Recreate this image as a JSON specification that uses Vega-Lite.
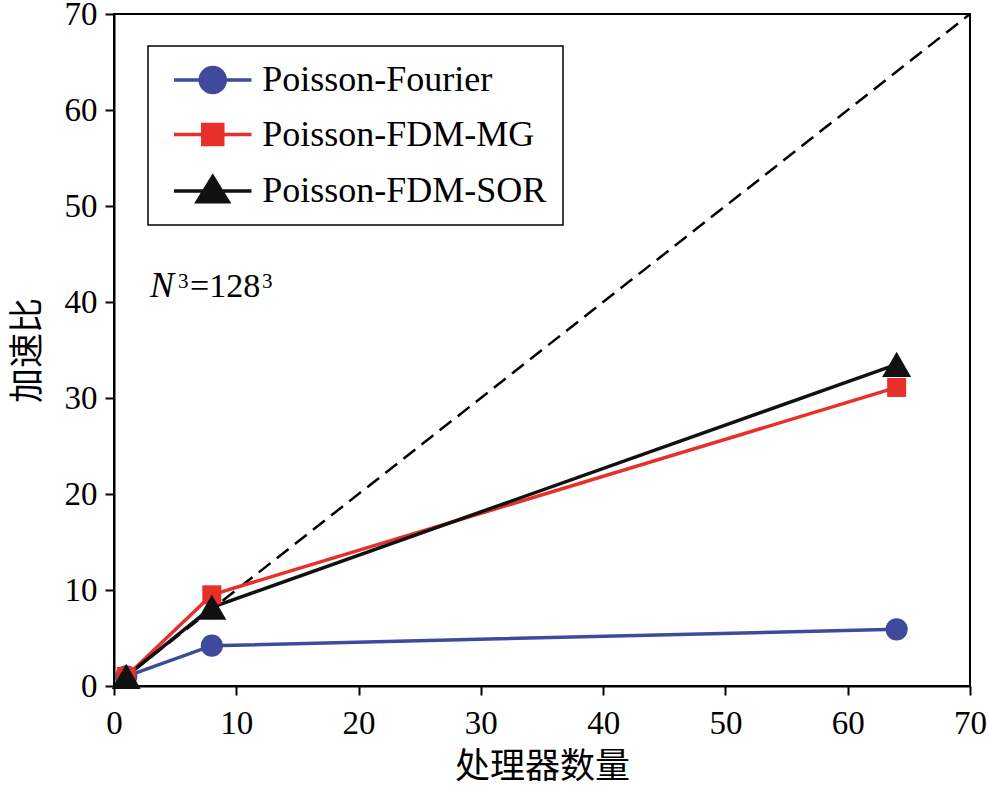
{
  "$schema": "https://vega.github.io/schema/vega-lite/v6.json",
  "width": 856,
  "height": 672,
  "autosize": "none",
  "padding": {"left": 114, "top": 14, "right": 19, "bottom": 101},
  "background": "white",
  "config": {
    "view": {"stroke": "black", "strokeWidth": 2},
    "style": {
      "guide-label": {"font": "Liberation Serif"},
      "guide-title": {"font": "Noto Sans CJK SC"}
    },
    "axis": {
      "grid": false,
      "domainColor": "black",
      "domainWidth": 2,
      "tickColor": "black",
      "tickWidth": 2,
      "tickSize": 9,
      "labelFont": "Liberation Serif",
      "labelFontSize": 33,
      "labelColor": "black",
      "labelFlush": false,
      "labelOverlap": false,
      "titleFont": "Noto Sans CJK SC",
      "titleFontSize": 35,
      "titleFontWeight": "normal",
      "titleColor": "black"
    },
    "legend": {
      "orient": "none",
      "legendX": 34,
      "legendY": 32,
      "padding": 16,
      "strokeColor": "black",
      "strokeWidth": 1.5,
      "fillColor": "white",
      "labelFont": "Liberation Serif",
      "labelFontSize": 36,
      "labelColor": "black",
      "labelLimit": 0,
      "symbolSize": 625,
      "symbolStrokeWidth": 3.5,
      "symbolOffset": 30.75,
      "labelOffset": 31.5,
      "rowPadding": 16.5
    }
  },
  "datasets": {
    "speedup": [
      {"series": "Poisson-Fourier", "procs": 1, "speedup": 1.0},
      {"series": "Poisson-Fourier", "procs": 8, "speedup": 4.2},
      {"series": "Poisson-Fourier", "procs": 64, "speedup": 5.9},
      {"series": "Poisson-FDM-MG", "procs": 1, "speedup": 1.0},
      {"series": "Poisson-FDM-MG", "procs": 8, "speedup": 9.5},
      {"series": "Poisson-FDM-MG", "procs": 64, "speedup": 31.1},
      {"series": "Poisson-FDM-SOR", "procs": 1, "speedup": 1.0},
      {"series": "Poisson-FDM-SOR", "procs": 8, "speedup": 8.2},
      {"series": "Poisson-FDM-SOR", "procs": 64, "speedup": 33.5}
    ],
    "ideal": [
      {"procs": 0, "speedup": 0},
      {"procs": 70, "speedup": 70}
    ],
    "note": [
      {"label": "N³=128³"}
    ]
  },
  "layer": [
    {
      "data": {"name": "ideal"},
      "mark": {"type": "line", "color": "black", "strokeWidth": 2.5, "strokeDash": [15, 8], "clip": true},
      "encoding": {
        "x": {"field": "procs", "type": "quantitative", "scale": {"domain": [0, 70]}, "axis": {"values": [0, 10, 20, 30, 40, 50, 60, 70], "labelFont": "Liberation Serif", "title": "处理器数量", "titlePadding": 9, "labelPadding": 12}},
        "y": {"field": "speedup", "type": "quantitative", "scale": {"domain": [0, 70]}, "axis": {"values": [0, 10, 20, 30, 40, 50, 60, 70], "labelFont": "Liberation Serif", "title": "加速比", "titlePadding": 19, "labelPadding": 8}}
      }
    },
    {
      "data": {"name": "speedup"},
      "mark": {"type": "line", "strokeWidth": 3.5},
      "encoding": {
        "x": {"field": "procs", "type": "quantitative"},
        "y": {"field": "speedup", "type": "quantitative"},
        "order": {"field": "procs", "type": "quantitative"},
        "color": {
          "field": "series",
          "type": "nominal",
          "scale": {"domain": ["Poisson-Fourier", "Poisson-FDM-MG", "Poisson-FDM-SOR"], "range": ["#3f4a9c", "#e8302a", "#111111"]},
          "legend": {
            "title": null,
            "encode": {
              "symbols": {
                "update": {
                  "shape": {"signal": "datum.value === 'Poisson-Fourier' ? 'M-3.1,0H-1M1,0H3.1M1,0A1,1,0,1,1,-1,0A1,1,0,1,1,1,0Z' : datum.value === 'Poisson-FDM-MG' ? 'M-3.1,0H3.1M-0.8,-0.8H0.8V0.8H-0.8Z' : 'M-3.1,0H3.1M0,-1.15L1.24,0.85L-1.24,0.85Z'"},
                  "fill": {"signal": "datum.value === 'Poisson-Fourier' ? '#3f4a9c' : datum.value === 'Poisson-FDM-MG' ? '#e8302a' : '#111111'"},
                  "stroke": {"signal": "datum.value === 'Poisson-Fourier' ? '#3f4a9c' : datum.value === 'Poisson-FDM-MG' ? '#e8302a' : '#111111'"},
                  "strokeWidth": {"value": 3.5},
                  "opacity": {"value": 1}
                }
              }
            }
          }
        }
      }
    },
    {
      "data": {"name": "speedup"},
      "transform": [{"filter": "datum.series === 'Poisson-Fourier'"}],
      "mark": {"type": "point", "shape": "circle", "filled": true, "size": 491, "opacity": 1, "color": "#3f4a9c"},
      "encoding": {
        "x": {"field": "procs", "type": "quantitative"},
        "y": {"field": "speedup", "type": "quantitative"}
      }
    },
    {
      "data": {"name": "speedup"},
      "transform": [{"filter": "datum.series === 'Poisson-FDM-MG'"}],
      "mark": {"type": "point", "shape": "square", "filled": true, "size": 361, "opacity": 1, "color": "#e8302a"},
      "encoding": {
        "x": {"field": "procs", "type": "quantitative"},
        "y": {"field": "speedup", "type": "quantitative"}
      }
    },
    {
      "data": {"name": "speedup"},
      "transform": [{"filter": "datum.series === 'Poisson-FDM-SOR'"}],
      "mark": {"type": "point", "shape": "triangle-up", "filled": true, "size": 841, "opacity": 1, "color": "#111111"},
      "encoding": {
        "x": {"field": "procs", "type": "quantitative"},
        "y": {"field": "speedup", "type": "quantitative"}
      }
    },
    {
      "data": {"name": "note"},
      "mark": {"type": "text", "text": "N", "font": "Liberation Serif", "fontStyle": "italic", "fontSize": 36, "align": "left", "baseline": "alphabetic", "color": "black"},
      "encoding": {
        "x": {"datum": 2.95, "type": "quantitative"},
        "y": {"datum": 40.5, "type": "quantitative"}
      }
    },
    {
      "data": {"name": "note"},
      "mark": {"type": "text", "text": "3", "font": "Liberation Serif", "fontSize": 21, "align": "left", "baseline": "alphabetic", "dx": 28, "dy": -9, "color": "black"},
      "encoding": {
        "x": {"datum": 2.95, "type": "quantitative"},
        "y": {"datum": 40.5, "type": "quantitative"}
      }
    },
    {
      "data": {"name": "note"},
      "mark": {"type": "text", "text": "=128", "font": "Liberation Serif", "fontSize": 34, "align": "left", "baseline": "alphabetic", "dx": 40, "color": "black"},
      "encoding": {
        "x": {"datum": 2.95, "type": "quantitative"},
        "y": {"datum": 40.5, "type": "quantitative"}
      }
    },
    {
      "data": {"name": "note"},
      "mark": {"type": "text", "text": "3", "font": "Liberation Serif", "fontSize": 21, "align": "left", "baseline": "alphabetic", "dx": 112, "dy": -9, "color": "black"},
      "encoding": {
        "x": {"datum": 2.95, "type": "quantitative"},
        "y": {"datum": 40.5, "type": "quantitative"}
      }
    }
  ]
}
